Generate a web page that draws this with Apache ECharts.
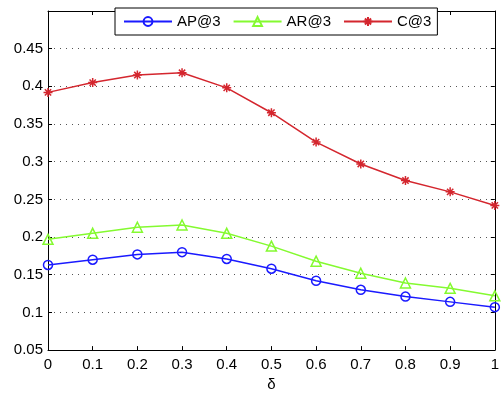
<!DOCTYPE html>
<html>
<head>
<meta charset="utf-8">
<script src="https://cdn.jsdelivr.net/npm/echarts@6/dist/echarts.min.js"></script>
<style>
  html, body { margin: 0; padding: 0; background: #fff; }
  #chart { width: 502px; height: 397px; }
</style>
</head>
<body>
<div id="chart"></div>
<script>
// δ values along the x axis
const deltas = [0, 0.1, 0.2, 0.3, 0.4, 0.5, 0.6, 0.7, 0.8, 0.9, 1.0];

// Metric values at each δ
const apAt3 = [0.163, 0.170, 0.177, 0.180, 0.171, 0.158, 0.142, 0.130, 0.121, 0.114, 0.107];
const arAt3 = [0.197, 0.205, 0.213, 0.216, 0.205, 0.188, 0.168, 0.152, 0.139, 0.132, 0.122];
const cAt3  = [0.392, 0.405, 0.415, 0.418, 0.398, 0.365, 0.326, 0.297, 0.275, 0.260, 0.242];

const seriesNames = ['AP@3', 'AR@3', 'C@3'];

const FONT = '"Liberation Sans", Arial, Helvetica, sans-serif';
// Hollow markers drawn as stroked outlines
const asterisk = 'path://M0,5L10,5M5,0L5,10M1.5,1.5L8.5,8.5M1.5,8.5L8.5,1.5';
const triangle = 'path://M5,0L10,9L0,9Z';

function pairs(values) {
  return deltas.map((d, i) => [d, values[i]]);
}

function lineSeries(name, values, color, symbol, size) {
  return {
    name: name,
    type: 'line',
    xAxisIndex: 0,
    yAxisIndex: 0,
    data: pairs(values),
    symbol: symbol,
    symbolSize: size,
    showAllSymbol: true,
    lineStyle: { color: color, width: 1.5 },
    itemStyle: { color: 'rgba(0,0,0,0)', borderColor: color, borderWidth: 1.5 },
    emphasis: { disabled: true },
    z: 3
  };
}

const chart = echarts.init(document.getElementById('chart'), null, { renderer: 'canvas' });

const axisLineBlack = { show: true, onZero: false, lineStyle: { color: '#000', width: 1 } };
const tickInside = { show: true, inside: true, length: 4, lineStyle: { color: '#000', width: 1 } };

chart.setOption({
  animation: false,
  backgroundColor: '#fff',
  textStyle: { fontFamily: FONT },
  grid: { left: 48, right: 4, top: 11, bottom: 39, containLabel: false },
  legend: {
    data: seriesNames,
    left: 115,
    top: 8,
    orient: 'horizontal',
    padding: [6, 6, 6, 8],
    itemGap: 12,
    itemWidth: 48,
    itemHeight: 11,
    backgroundColor: '#fff',
    borderColor: '#000',
    borderWidth: 1,
    borderRadius: 0,
    textStyle: { fontFamily: FONT, fontSize: 15, color: '#000' },
    selectedMode: false
  },
  xAxis: [
    {
      type: 'value',
      position: 'bottom',
      min: 0,
      max: 1,
      interval: 0.1,
      name: 'δ',
      nameLocation: 'middle',
      nameGap: 25,
      nameTextStyle: { fontFamily: FONT, fontSize: 15, color: '#000' },
      axisLine: axisLineBlack,
      axisTick: tickInside,
      axisLabel: { fontFamily: FONT, fontSize: 15, color: '#000', margin: 7 },
      splitLine: { show: false }
    },
    {
      type: 'value',
      position: 'top',
      min: 0,
      max: 1,
      interval: 0.1,
      axisLine: axisLineBlack,
      axisTick: tickInside,
      axisLabel: { show: false },
      splitLine: { show: false }
    }
  ],
  yAxis: [
    {
      type: 'value',
      position: 'left',
      min: 0.05,
      max: 0.5,
      interval: 0.05,
      axisLine: axisLineBlack,
      axisTick: tickInside,
      axisLabel: { fontFamily: FONT, fontSize: 15, color: '#000', margin: 5, showMaxLabel: false },
      splitLine: { show: true, lineStyle: { color: '#555', width: 1, type: [1, 5] } }
    },
    {
      type: 'value',
      position: 'right',
      min: 0.05,
      max: 0.5,
      interval: 0.05,
      axisLine: axisLineBlack,
      axisTick: tickInside,
      axisLabel: { show: false },
      splitLine: { show: false }
    }
  ],
  series: [
    lineSeries(seriesNames[0], apAt3, '#1a1aff', 'circle', 9),
    lineSeries(seriesNames[1], arAt3, '#84fa30', triangle, 10),
    lineSeries(seriesNames[2], cAt3, '#d4262e', asterisk, 9)
  ]
});
</script>
</body>
</html>
